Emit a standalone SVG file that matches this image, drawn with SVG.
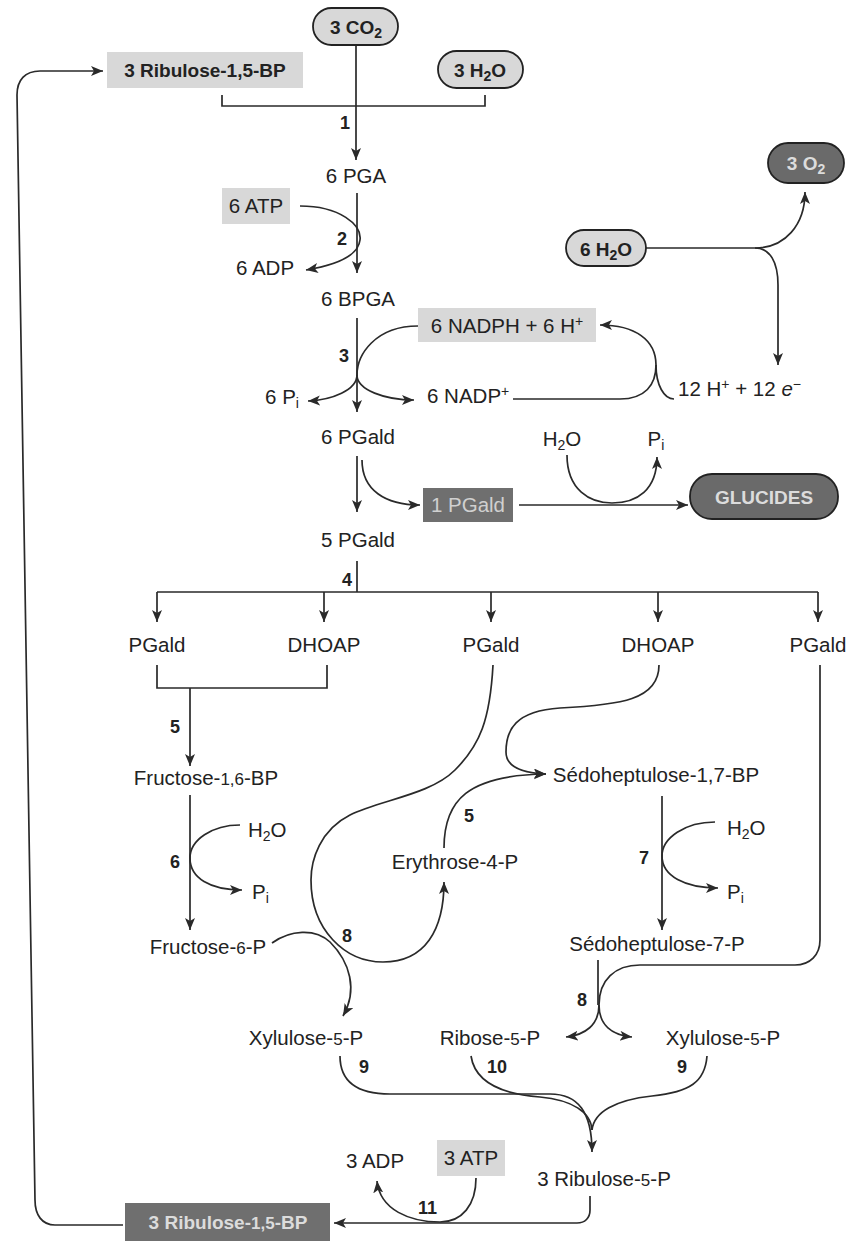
<svg xmlns="http://www.w3.org/2000/svg" width="854" height="1241" viewBox="0 0 854 1241">
<style>
text{font-family:"Liberation Sans",Arial,sans-serif;font-size:20.5px;fill:#222}
.m{text-anchor:middle}
.b{font-weight:bold;font-size:19px}
.n{font-weight:bold;font-size:18px}
.lt{fill:#dcdcdc;font-weight:bold;font-size:19px}
.lr{fill:#d0d0d0}
.s{font-size:14px}
.sd{font-size:17px}
.box{fill:#d8d8d8}
.dbox{fill:#6f6f6f}
.pill{fill:#d8d8d8;stroke:#222;stroke-width:1.8}
.dpill{fill:#6a6a6a;stroke:#222;stroke-width:1.8}
.ln{fill:none;stroke:#2a2a2a;stroke-width:1.7}
.a{marker-end:url(#ah)}
</style>
<defs>
<marker id="ah" markerUnits="userSpaceOnUse" markerWidth="13" markerHeight="11" refX="12" refY="5" orient="auto">
<path d="M0,0 L12,5 L0,10 L3,5 z" fill="#2a2a2a"/>
</marker>
</defs>
<rect width="854" height="1241" fill="#fff"/>

<g id="connectors">
<path class="ln" d="M222,95 V106 H485 V95"/>
<path class="ln a" d="M356,45 V160"/>
<path class="ln a" d="M357,193 V273"/>
<path class="ln a" d="M300,206 C340,206 362,225 360,240 C358,258 330,266 306,270"/>
<path class="ln a" d="M357,318 V412"/>
<path class="ln a" d="M418,326 C375,326 357,355 357,375 C357,390 332,400 308,401"/>
<path class="ln a" d="M357,375 C357,390 385,400 414,400"/>
<path class="ln a" d="M513,399 H620 C645,399 656,385 656,365 C656,340 635,325 600,325"/>
<path class="ln" d="M674,399 C664,399 656,385 656,365"/>
<path class="ln a" d="M646,248 H755 C785,248 805,225 805,192"/>
<path class="ln a" d="M755,248 C770,248 778,262 778,285 V365"/>
<path class="ln a" d="M357,456 V512"/>
<path class="ln a" d="M362,460 C362,490 385,505 420,505"/>
<path class="ln a" d="M519,505 H688"/>
<path class="ln a" d="M567,455 C567,490 590,503 612,503 C637,503 657,490 657,457"/>
<path class="ln" d="M357,561 V592 M157,592 H818"/>
<path class="ln a" d="M157,592 V622"/>
<path class="ln a" d="M324,592 V622"/>
<path class="ln a" d="M491,592 V622"/>
<path class="ln a" d="M658,592 V622"/>
<path class="ln a" d="M818,592 V622"/>
<path class="ln" d="M157,665 V688 H327 V665"/>
<path class="ln a" d="M190,688 V766"/>
<path class="ln a" d="M190,795 V930"/>
<path class="ln a" d="M240,825 C212,825 190,840 190,858 C190,878 210,890 242,890"/>
<path class="ln a" d="M493,665 C490,720 480,745 455,770 C430,795 380,800 350,815 C320,830 311,860 311,880 C311,930 345,962 383,962 C425,962 444,930 444,882"/>
<path class="ln a" d="M272,943 C290,930 315,928 330,942 C350,962 358,990 343,1016"/>
<path class="ln a" d="M444,848 C444,800 468,775 546,774"/>
<path class="ln a" d="M659,665 C659,700 620,705 560,708 C515,711 506,730 506,752 C506,766 520,773 546,774"/>
<path class="ln a" d="M662,796 V930"/>
<path class="ln a" d="M715,822 C685,822 662,838 662,856 C662,876 685,888 718,888"/>
<path class="ln" d="M820,665 V940 C820,955 810,965 795,965 H640 C615,965 599,980 599,1005"/>
<path class="ln" d="M598,960 V1005"/>
<path class="ln a" d="M599,1005 C599,1025 585,1035 566,1037"/>
<path class="ln a" d="M599,1005 C599,1025 612,1035 632,1037"/>
<path class="ln a" d="M340,1056 C340,1082 358,1094 390,1094 H550 C578,1094 592,1112 592,1152"/>
<path class="ln" d="M471,1056 C475,1082 500,1094 540,1097 C572,1100 591,1112 592,1130"/>
<path class="ln" d="M707,1056 C705,1082 690,1092 652,1096 C615,1100 594,1112 592,1130"/>
<path class="ln a" d="M590,1196 V1210 C590,1218 585,1223 577,1223 H334"/>
<path class="ln a" d="M476,1178 C476,1205 462,1222 440,1222 C410,1222 380,1210 377,1181"/>
<path class="ln a" d="M123,1225 H55 C42,1225 35,1215 35,1200 L17,95 C17,80 25,71 40,71 H103"/>
</g>

<g id="labels-steps">
<text class="n" x="340" y="129">1</text>
<text class="n" x="337" y="245">2</text>
<text class="n" x="339" y="362">3</text>
<text class="n" x="342" y="586">4</text>
<text class="n" x="170" y="733">5</text>
<text class="n" x="170" y="868">6</text>
<text class="n" x="464" y="822">5</text>
<text class="n" x="639" y="864">7</text>
<text class="n" x="342" y="942">8</text>
<text class="n" x="577" y="1006">8</text>
<text class="n" x="359" y="1073">9</text>
<text class="n" x="487" y="1073">10</text>
<text class="n" x="677" y="1073">9</text>
<text class="n" x="418" y="1214">11</text>
</g>

<g id="co2"><rect class="pill" x="313" y="8" width="85" height="37" rx="18.5"/><text class="m b" x="356" y="34">3 CO<tspan class="s" dy="4">2</tspan></text></g>
<g id="rubp-top"><rect class="box" x="107" y="52" width="196" height="36"/><text class="m b" x="205" y="77">3 Ribulose-1,5-BP</text></g>
<g id="h2o-top"><rect class="pill" x="438" y="51" width="85" height="37" rx="18.5"/><text class="m b" x="480" y="77">3 H<tspan class="s" dy="4">2</tspan><tspan dy="-4">O</tspan></text></g>
<g id="pga"><text class="m" x="356" y="183">6 PGA</text></g>
<g id="atp6"><rect class="box" x="222" y="188" width="68" height="36"/><text class="m" x="256" y="213">6 ATP</text></g>
<g id="adp6"><text class="m" x="265" y="275">6 ADP</text></g>
<g id="bpga"><text class="m" x="358" y="306">6 BPGA</text></g>
<g id="nadph"><rect class="box" x="418" y="308" width="178" height="34"/><text class="m" x="507" y="333">6 NADPH + 6 H<tspan class="s" dy="-7">+</tspan></text></g>
<g id="pi6"><text class="m" x="282" y="404">6 P<tspan class="s" dy="4">i</tspan></text></g>
<g id="nadp"><text x="427" y="403">6 NADP<tspan class="s" dy="-7">+</tspan></text></g>
<g id="hplus"><text x="678" y="396">12 H<tspan class="s" dy="-7">+</tspan><tspan dy="7"> + 12 </tspan><tspan font-style="italic">e</tspan><tspan class="s" dy="-7">−</tspan></text></g>
<g id="h2o6"><rect class="pill" x="566" y="230" width="80" height="36" rx="18"/><text class="m b" x="606" y="256">6 H<tspan class="s" dy="4">2</tspan><tspan dy="-4">O</tspan></text></g>
<g id="o2"><rect class="dpill" x="768" y="143" width="76" height="40" rx="20"/><text class="m lt" x="806" y="170">3 O<tspan class="s" dy="4">2</tspan></text></g>
<g id="pgald6"><text class="m" x="358" y="444">6 PGald</text></g>
<g id="pgald1"><rect class="dbox" x="423" y="488" width="90" height="34"/><text class="m lr" x="468" y="512">1 PGald</text></g>
<g id="glucides"><rect class="dpill" x="690" y="474" width="148" height="45" rx="22"/><text class="m lt" x="764" y="504">GLUCIDES</text></g>
<g id="h2o-g"><text class="m" x="562" y="446">H<tspan class="s" dy="4">2</tspan><tspan dy="-4">O</tspan></text></g>
<g id="pi-g"><text class="m" x="656" y="446">P<tspan class="s" dy="4">i</tspan></text></g>
<g id="pgald5"><text class="m" x="358" y="547">5 PGald</text></g>
<g id="pgald-a"><text class="m" x="157" y="652">PGald</text></g>
<g id="dhoap-a"><text class="m" x="324" y="652">DHOAP</text></g>
<g id="pgald-b"><text class="m" x="491" y="652">PGald</text></g>
<g id="dhoap-b"><text class="m" x="658" y="652">DHOAP</text></g>
<g id="pgald-c"><text class="m" x="818" y="652">PGald</text></g>
<g id="f16bp"><text class="m" x="206" y="785">Fructose-<tspan class="sd">1,6</tspan>-BP</text></g>
<g id="h2o-f"><text x="248" y="837">H<tspan class="s" dy="4">2</tspan><tspan dy="-4">O</tspan></text></g>
<g id="pi-f"><text x="252" y="899">P<tspan class="s" dy="4">i</tspan></text></g>
<g id="f6p"><text class="m" x="208" y="954">Fructose-<tspan class="sd">6</tspan>-P</text></g>
<g id="e4p"><text class="m" x="455" y="869">Erythrose-4-P</text></g>
<g id="s17bp"><text class="m" x="656" y="782">Sédoheptulose-1,7-BP</text></g>
<g id="h2o-s"><text x="727" y="835">H<tspan class="s" dy="4">2</tspan><tspan dy="-4">O</tspan></text></g>
<g id="pi-s"><text x="727" y="899">P<tspan class="s" dy="4">i</tspan></text></g>
<g id="s7p"><text class="m" x="657" y="951">Sédoheptulose-7-P</text></g>
<g id="x5p-a"><text class="m" x="306" y="1045">Xylulose-<tspan class="sd">5</tspan>-P</text></g>
<g id="r5p"><text class="m" x="490" y="1045">Ribose-<tspan class="sd">5</tspan>-P</text></g>
<g id="x5p-b"><text class="m" x="723" y="1045">Xylulose-<tspan class="sd">5</tspan>-P</text></g>
<g id="ru5p"><text class="m" x="604" y="1186">3 Ribulose-<tspan class="sd">5</tspan>-P</text></g>
<g id="adp3"><text class="m" x="375" y="1168">3 ADP</text></g>
<g id="atp3"><rect class="box" x="437" y="1140" width="68" height="36"/><text class="m" x="471" y="1165">3 ATP</text></g>
<g id="rubp-bottom"><rect class="dbox" x="125" y="1203" width="205" height="38"/><text class="m lt" x="228" y="1229">3 Ribulose-<tspan class="sd">1,5</tspan>-BP</text></g>
</svg>
